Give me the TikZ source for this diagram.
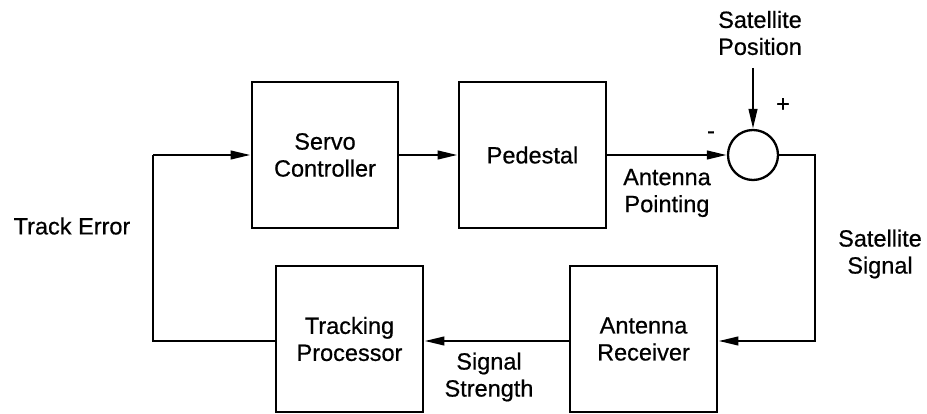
\documentclass[tikz,border=0pt]{standalone}
\usepackage{fontspec}
\setmainfont{Liberation Sans}
\newfontfamily\dfont[FakeBold=0.6]{Liberation Sans}
\usetikzlibrary{arrows.meta}
\begin{document}
\begin{tikzpicture}[x=1pt,y=-1pt,
  blk/.style={draw, line width=2.8pt, minimum height=146pt, align=center, font=\dfont\fontsize{23.5}{27}\selectfont, inner sep=0pt},
  lbl/.style={align=center, font=\dfont\fontsize{23.5}{27}\selectfont, inner sep=0pt},
  conn/.style={line width=2.6pt, -{Triangle[length=20pt,width=8.5pt]}},
  wire/.style={line width=2.6pt},
  ]
\useasboundingbox (0,0) rectangle (927,414);
\node[blk, minimum width=146pt] (servo) at (325,155) {Servo\\Controller};
\node[blk, minimum width=147pt] (ped) at (532.5,155) {Pedestal};
\node[blk, minimum width=147pt] (track) at (349.5,339) {Tracking\\Processor};
\node[blk, minimum width=147pt] (recv) at (643.5,339) {Antenna\\Receiver};
\node[circle, draw, line width=2.3pt, minimum size=50pt, inner sep=0pt] (sum) at (753,155) {};
\coordinate (tl) at (153,155);
\coordinate (bl) at (153,341);
\coordinate (tr) at (815,155);
\coordinate (br) at (815,341);
\coordinate (sp) at (753,68);
\draw[conn] (tl) -- (servo.west);
\draw[conn] (servo.east) -- (ped.west);
\draw[conn] (ped.east) -- (sum.west);
\draw[conn] (sp) -- (sum.north);
\draw[conn] (sum.east) -- (tr) -- (br) -- (br -| recv.east);
\draw[conn] (recv.west |- br) -- (track.east |- br);
\draw[wire] (track.west |- br) -- (bl) -- (tl);
\node[lbl] (satpos) at (760,33) {Satellite\\Position};
\node[lbl] (plus) at (783,105) {+};
\node[lbl] (minus) at (711,135) {-};
\node[lbl] (antp) at (667,193) {Antenna\\Pointing};
\node[lbl] (terr) at (72,226) {Track Error};
\node[lbl] (satsig) at (880,254) {Satellite\\Signal};
\node[lbl] (sigstr) at (489,377) {Signal\\Strength};
\end{tikzpicture}
\end{document}
